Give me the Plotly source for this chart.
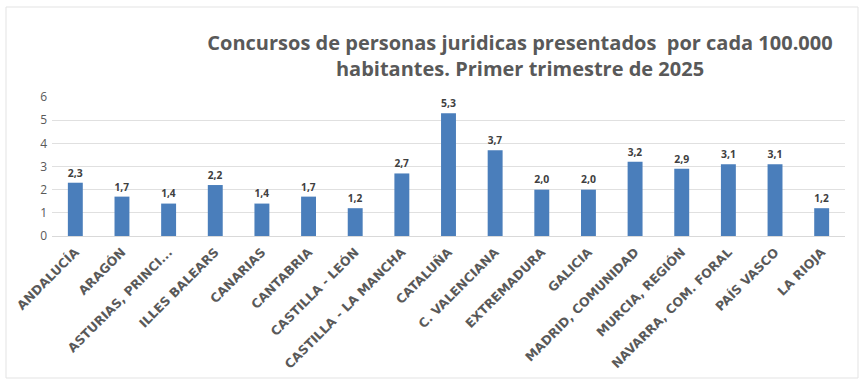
import plotly.graph_objects as go

regiones = ["ANDALUCÍA", "ARAGÓN", "ASTURIAS, PRINCI...", "ILLES BALEARS", "CANARIAS",
            "CANTABRIA", "CASTILLA - LEÓN", "CASTILLA - LA MANCHA", "CATALUÑA",
            "C. VALENCIANA", "EXTREMADURA", "GALICIA", "MADRID, COMUNIDAD",
            "MURCIA, REGIÓN", "NAVARRA, COM. FORAL", "PAÍS VASCO", "LA RIOJA"]
valores = [2.3, 1.7, 1.4, 2.2, 1.4, 1.7, 1.2, 2.7, 5.3, 3.7, 2.0, 2.0, 3.2, 2.9, 3.1, 3.1, 1.2]
titulo = "Concursos de personas juridicas presentados  por cada 100.000<br>habitantes. Primer trimestre de 2025"
y_ticks = [0, 1, 2, 3, 4, 5, 6]

fig = go.Figure(go.Bar(
    x=regiones, y=valores,
    marker=dict(color="#4a7ebb", line=dict(width=0)),
    texttemplate="<b>%{y:.1f}</b>", textposition="outside",
    textfont=dict(family="Open Sans", size=13, color="#404040"),
    cliponaxis=False,
))

fig.update_layout(
    width=861, height=379,
    margin=dict(l=52, r=16, t=97, b=143, autoexpand=False),
    paper_bgcolor="white", plot_bgcolor="white",
    separators=",.",
    bargap=0.68,
    showlegend=False,
    title=dict(text="<b>" + titulo + "</b>", x=520/861, xanchor="center",
               y=1 - 50/379, yanchor="top",
               font=dict(family="Open Sans", size=20, color="#595959")),
    xaxis=dict(tickangle=-45, automargin=False, ticklabelstandoff=3,
               tickfont=dict(family="DejaVu Sans", size=12.5, color="#595959", weight="bold"),
               showgrid=False, showline=True, linecolor="#d9d9d9", linewidth=1, ticks=""),
    yaxis=dict(range=[0, 6], tickvals=y_ticks, showgrid=True, gridcolor="#e0e0e0",
               zeroline=False, showline=False, ticks="", automargin=False,
               ticklabelstandoff=4,
               tickfont=dict(family="Open Sans", size=12, color="#595959")),
    shapes=[dict(type="rect", xref="paper", yref="paper", x0=-46/793, x1=(858-52)/793,
                 y0=-(378-236)/139, y1=(236-7)/139,
                 line=dict(color="#e3e3e3", width=1), layer="below")],
)

fig.write_html("out.html", config={"displayModeBar": False},
               post_script="document.body.style.margin='0';")
